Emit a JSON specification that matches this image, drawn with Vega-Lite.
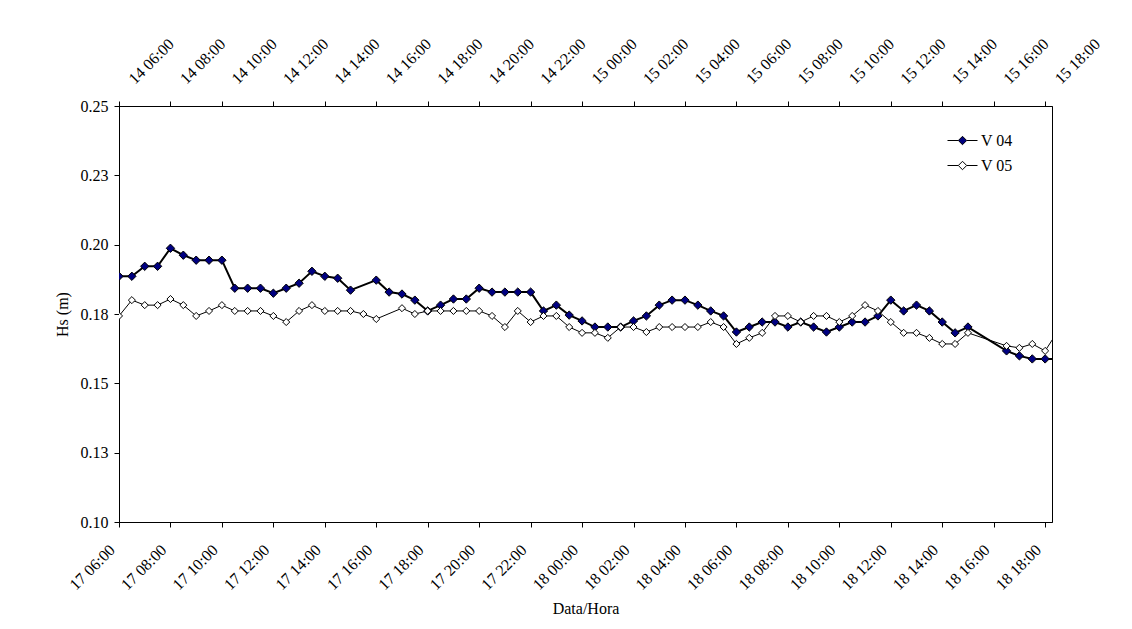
{
  "$schema": "https://vega.github.io/schema/vega-lite/v6.json",
  "width": 933,
  "height": 416,
  "autosize": {"type": "none"},
  "padding": {"left": 119, "top": 106, "right": 80, "bottom": 107},
  "background": "#ffffff",
  "config": {
    "font": "Liberation Serif",
    "view": {"stroke": "#000000", "strokeWidth": 1},
    "point": {"shape": "diamond"},
    "axis": {
      "domainColor": "#000000", "tickColor": "#000000", "labelColor": "#000000", "titleColor": "#000000",
      "labelFont": "Liberation Serif", "titleFont": "Liberation Serif",
      "labelFontSize": 16, "titleFontSize": 16, "titleFontWeight": "normal",
      "grid": false, "tickSize": 5, "labelOverlap": false, "labelFlush": false
    },
    "legend": {"labelFont": "Liberation Serif", "labelFontSize": 16, "labelColor": "#000000"}
  },
  "data": {
    "values": [
      {"t": "2000-01-17T06:00", "s": "V 04", "v": 0.1886},
      {"t": "2000-01-17T06:30", "s": "V 04", "v": 0.1886},
      {"t": "2000-01-17T07:00", "s": "V 04", "v": 0.1922},
      {"t": "2000-01-17T07:30", "s": "V 04", "v": 0.1922},
      {"t": "2000-01-17T08:00", "s": "V 04", "v": 0.1987},
      {"t": "2000-01-17T08:30", "s": "V 04", "v": 0.1962},
      {"t": "2000-01-17T09:00", "s": "V 04", "v": 0.1944},
      {"t": "2000-01-17T09:30", "s": "V 04", "v": 0.1944},
      {"t": "2000-01-17T10:00", "s": "V 04", "v": 0.1944},
      {"t": "2000-01-17T10:30", "s": "V 04", "v": 0.1843},
      {"t": "2000-01-17T11:00", "s": "V 04", "v": 0.1843},
      {"t": "2000-01-17T11:30", "s": "V 04", "v": 0.1843},
      {"t": "2000-01-17T12:00", "s": "V 04", "v": 0.1825},
      {"t": "2000-01-17T12:30", "s": "V 04", "v": 0.1843},
      {"t": "2000-01-17T13:00", "s": "V 04", "v": 0.1861},
      {"t": "2000-01-17T13:30", "s": "V 04", "v": 0.1904},
      {"t": "2000-01-17T14:00", "s": "V 04", "v": 0.1886},
      {"t": "2000-01-17T14:30", "s": "V 04", "v": 0.1879},
      {"t": "2000-01-17T15:00", "s": "V 04", "v": 0.1836},
      {"t": "2000-01-17T16:00", "s": "V 04", "v": 0.1872},
      {"t": "2000-01-17T16:30", "s": "V 04", "v": 0.1829},
      {"t": "2000-01-17T17:00", "s": "V 04", "v": 0.1822},
      {"t": "2000-01-17T17:30", "s": "V 04", "v": 0.1800},
      {"t": "2000-01-17T18:00", "s": "V 04", "v": 0.1761},
      {"t": "2000-01-17T18:30", "s": "V 04", "v": 0.1782},
      {"t": "2000-01-17T19:00", "s": "V 04", "v": 0.1804},
      {"t": "2000-01-17T19:30", "s": "V 04", "v": 0.1804},
      {"t": "2000-01-17T20:00", "s": "V 04", "v": 0.1843},
      {"t": "2000-01-17T20:30", "s": "V 04", "v": 0.1829},
      {"t": "2000-01-17T21:00", "s": "V 04", "v": 0.1829},
      {"t": "2000-01-17T21:30", "s": "V 04", "v": 0.1829},
      {"t": "2000-01-17T22:00", "s": "V 04", "v": 0.1829},
      {"t": "2000-01-17T22:30", "s": "V 04", "v": 0.1761},
      {"t": "2000-01-17T23:00", "s": "V 04", "v": 0.1782},
      {"t": "2000-01-17T23:30", "s": "V 04", "v": 0.1746},
      {"t": "2000-01-18T00:00", "s": "V 04", "v": 0.1725},
      {"t": "2000-01-18T00:30", "s": "V 04", "v": 0.1703},
      {"t": "2000-01-18T01:00", "s": "V 04", "v": 0.1703},
      {"t": "2000-01-18T01:30", "s": "V 04", "v": 0.1703},
      {"t": "2000-01-18T02:00", "s": "V 04", "v": 0.1725},
      {"t": "2000-01-18T02:30", "s": "V 04", "v": 0.1743},
      {"t": "2000-01-18T03:00", "s": "V 04", "v": 0.1782},
      {"t": "2000-01-18T03:30", "s": "V 04", "v": 0.1800},
      {"t": "2000-01-18T04:00", "s": "V 04", "v": 0.1800},
      {"t": "2000-01-18T04:30", "s": "V 04", "v": 0.1782},
      {"t": "2000-01-18T05:00", "s": "V 04", "v": 0.1761},
      {"t": "2000-01-18T05:30", "s": "V 04", "v": 0.1743},
      {"t": "2000-01-18T06:00", "s": "V 04", "v": 0.1685},
      {"t": "2000-01-18T06:30", "s": "V 04", "v": 0.1703},
      {"t": "2000-01-18T07:00", "s": "V 04", "v": 0.1721},
      {"t": "2000-01-18T07:30", "s": "V 04", "v": 0.1721},
      {"t": "2000-01-18T08:00", "s": "V 04", "v": 0.1703},
      {"t": "2000-01-18T08:30", "s": "V 04", "v": 0.1721},
      {"t": "2000-01-18T09:00", "s": "V 04", "v": 0.1703},
      {"t": "2000-01-18T09:30", "s": "V 04", "v": 0.1685},
      {"t": "2000-01-18T10:00", "s": "V 04", "v": 0.1703},
      {"t": "2000-01-18T10:30", "s": "V 04", "v": 0.1721},
      {"t": "2000-01-18T11:00", "s": "V 04", "v": 0.1721},
      {"t": "2000-01-18T11:30", "s": "V 04", "v": 0.1743},
      {"t": "2000-01-18T12:00", "s": "V 04", "v": 0.1800},
      {"t": "2000-01-18T12:30", "s": "V 04", "v": 0.1761},
      {"t": "2000-01-18T13:00", "s": "V 04", "v": 0.1782},
      {"t": "2000-01-18T13:30", "s": "V 04", "v": 0.1761},
      {"t": "2000-01-18T14:00", "s": "V 04", "v": 0.1721},
      {"t": "2000-01-18T14:30", "s": "V 04", "v": 0.1682},
      {"t": "2000-01-18T15:00", "s": "V 04", "v": 0.1703},
      {"t": "2000-01-18T16:30", "s": "V 04", "v": 0.1617},
      {"t": "2000-01-18T17:00", "s": "V 04", "v": 0.1599},
      {"t": "2000-01-18T17:30", "s": "V 04", "v": 0.1588},
      {"t": "2000-01-18T18:00", "s": "V 04", "v": 0.1588},
      {"t": "2000-01-18T18:30", "s": "V 04", "v": 0.1588},
      {"t": "2000-01-17T06:00", "s": "V 05", "v": 0.1743},
      {"t": "2000-01-17T06:30", "s": "V 05", "v": 0.1800},
      {"t": "2000-01-17T07:00", "s": "V 05", "v": 0.1782},
      {"t": "2000-01-17T07:30", "s": "V 05", "v": 0.1782},
      {"t": "2000-01-17T08:00", "s": "V 05", "v": 0.1804},
      {"t": "2000-01-17T08:30", "s": "V 05", "v": 0.1782},
      {"t": "2000-01-17T09:00", "s": "V 05", "v": 0.1743},
      {"t": "2000-01-17T09:30", "s": "V 05", "v": 0.1761},
      {"t": "2000-01-17T10:00", "s": "V 05", "v": 0.1782},
      {"t": "2000-01-17T10:30", "s": "V 05", "v": 0.1761},
      {"t": "2000-01-17T11:00", "s": "V 05", "v": 0.1761},
      {"t": "2000-01-17T11:30", "s": "V 05", "v": 0.1761},
      {"t": "2000-01-17T12:00", "s": "V 05", "v": 0.1743},
      {"t": "2000-01-17T12:30", "s": "V 05", "v": 0.1721},
      {"t": "2000-01-17T13:00", "s": "V 05", "v": 0.1761},
      {"t": "2000-01-17T13:30", "s": "V 05", "v": 0.1782},
      {"t": "2000-01-17T14:00", "s": "V 05", "v": 0.1761},
      {"t": "2000-01-17T14:30", "s": "V 05", "v": 0.1761},
      {"t": "2000-01-17T15:00", "s": "V 05", "v": 0.1761},
      {"t": "2000-01-17T15:30", "s": "V 05", "v": 0.1750},
      {"t": "2000-01-17T16:00", "s": "V 05", "v": 0.1732},
      {"t": "2000-01-17T17:00", "s": "V 05", "v": 0.1771},
      {"t": "2000-01-17T17:30", "s": "V 05", "v": 0.1750},
      {"t": "2000-01-17T18:00", "s": "V 05", "v": 0.1761},
      {"t": "2000-01-17T18:30", "s": "V 05", "v": 0.1761},
      {"t": "2000-01-17T19:00", "s": "V 05", "v": 0.1761},
      {"t": "2000-01-17T19:30", "s": "V 05", "v": 0.1761},
      {"t": "2000-01-17T20:00", "s": "V 05", "v": 0.1761},
      {"t": "2000-01-17T20:30", "s": "V 05", "v": 0.1743},
      {"t": "2000-01-17T21:00", "s": "V 05", "v": 0.1703},
      {"t": "2000-01-17T21:30", "s": "V 05", "v": 0.1761},
      {"t": "2000-01-17T22:00", "s": "V 05", "v": 0.1721},
      {"t": "2000-01-17T22:30", "s": "V 05", "v": 0.1743},
      {"t": "2000-01-17T23:00", "s": "V 05", "v": 0.1743},
      {"t": "2000-01-17T23:30", "s": "V 05", "v": 0.1703},
      {"t": "2000-01-18T00:00", "s": "V 05", "v": 0.1682},
      {"t": "2000-01-18T00:30", "s": "V 05", "v": 0.1682},
      {"t": "2000-01-18T01:00", "s": "V 05", "v": 0.1664},
      {"t": "2000-01-18T01:30", "s": "V 05", "v": 0.1703},
      {"t": "2000-01-18T02:00", "s": "V 05", "v": 0.1703},
      {"t": "2000-01-18T02:30", "s": "V 05", "v": 0.1685},
      {"t": "2000-01-18T03:00", "s": "V 05", "v": 0.1703},
      {"t": "2000-01-18T03:30", "s": "V 05", "v": 0.1703},
      {"t": "2000-01-18T04:00", "s": "V 05", "v": 0.1703},
      {"t": "2000-01-18T04:30", "s": "V 05", "v": 0.1703},
      {"t": "2000-01-18T05:00", "s": "V 05", "v": 0.1721},
      {"t": "2000-01-18T05:30", "s": "V 05", "v": 0.1703},
      {"t": "2000-01-18T06:00", "s": "V 05", "v": 0.1642},
      {"t": "2000-01-18T06:30", "s": "V 05", "v": 0.1664},
      {"t": "2000-01-18T07:00", "s": "V 05", "v": 0.1682},
      {"t": "2000-01-18T07:30", "s": "V 05", "v": 0.1743},
      {"t": "2000-01-18T08:00", "s": "V 05", "v": 0.1743},
      {"t": "2000-01-18T08:30", "s": "V 05", "v": 0.1721},
      {"t": "2000-01-18T09:00", "s": "V 05", "v": 0.1743},
      {"t": "2000-01-18T09:30", "s": "V 05", "v": 0.1743},
      {"t": "2000-01-18T10:00", "s": "V 05", "v": 0.1721},
      {"t": "2000-01-18T10:30", "s": "V 05", "v": 0.1743},
      {"t": "2000-01-18T11:00", "s": "V 05", "v": 0.1782},
      {"t": "2000-01-18T11:30", "s": "V 05", "v": 0.1761},
      {"t": "2000-01-18T12:00", "s": "V 05", "v": 0.1721},
      {"t": "2000-01-18T12:30", "s": "V 05", "v": 0.1682},
      {"t": "2000-01-18T13:00", "s": "V 05", "v": 0.1682},
      {"t": "2000-01-18T13:30", "s": "V 05", "v": 0.1664},
      {"t": "2000-01-18T14:00", "s": "V 05", "v": 0.1642},
      {"t": "2000-01-18T14:30", "s": "V 05", "v": 0.1642},
      {"t": "2000-01-18T15:00", "s": "V 05", "v": 0.1682},
      {"t": "2000-01-18T16:30", "s": "V 05", "v": 0.1635},
      {"t": "2000-01-18T17:00", "s": "V 05", "v": 0.1628},
      {"t": "2000-01-18T17:30", "s": "V 05", "v": 0.1642},
      {"t": "2000-01-18T18:00", "s": "V 05", "v": 0.1617},
      {"t": "2000-01-18T18:30", "s": "V 05", "v": 0.1689}
    ]
  },
  "layer": [
    {
      "mark": {"type": "line", "color": "#000000", "clip": true},
      "encoding": {
        "x": {
          "field": "t", "type": "temporal",
          "scale": {"domain": [{"year": 2000, "month": 1, "date": 17, "hours": 6, "minutes": 0}, {"year": 2000, "month": 1, "date": 18, "hours": 18, "minutes": 16}], "nice": false},
          "axis": {
            "orient": "bottom", "title": "Data/Hora", "format": "%d %H:%M",
            "values": [
              {"year": 2000, "month": 1, "date": 17, "hours": 6}, {"year": 2000, "month": 1, "date": 17, "hours": 8},
              {"year": 2000, "month": 1, "date": 17, "hours": 10}, {"year": 2000, "month": 1, "date": 17, "hours": 12},
              {"year": 2000, "month": 1, "date": 17, "hours": 14}, {"year": 2000, "month": 1, "date": 17, "hours": 16},
              {"year": 2000, "month": 1, "date": 17, "hours": 18}, {"year": 2000, "month": 1, "date": 17, "hours": 20},
              {"year": 2000, "month": 1, "date": 17, "hours": 22}, {"year": 2000, "month": 1, "date": 18, "hours": 0},
              {"year": 2000, "month": 1, "date": 18, "hours": 2}, {"year": 2000, "month": 1, "date": 18, "hours": 4},
              {"year": 2000, "month": 1, "date": 18, "hours": 6}, {"year": 2000, "month": 1, "date": 18, "hours": 8},
              {"year": 2000, "month": 1, "date": 18, "hours": 10}, {"year": 2000, "month": 1, "date": 18, "hours": 12},
              {"year": 2000, "month": 1, "date": 18, "hours": 14}, {"year": 2000, "month": 1, "date": 18, "hours": 16},
              {"year": 2000, "month": 1, "date": 18, "hours": 18}
            ],
            "labelAngle": 315, "labelAlign": "right", "labelBaseline": "middle", "labelPadding": 20, "labelOffset": -7, "titlePadding": 8
          }
        },
        "y": {
          "field": "v", "type": "quantitative",
          "scale": {"domain": [0.1, 0.25], "nice": false, "zero": false},
          "axis": {
            "title": "Hs (m)", "values": [0.1, 0.125, 0.15, 0.175, 0.2, 0.225, 0.25],
            "labelExpr": "format(datum.value + 0.000001, '.2f')", "labelPadding": 6, "titlePadding": 10
          }
        },
        "detail": {"field": "s", "type": "nominal"},
        "strokeWidth": {"field": "s", "type": "nominal", "scale": {"domain": ["V 05", "V 04"], "range": [1, 2]}, "legend": null}
      }
    },
    {
      "mark": {"type": "point", "filled": true, "stroke": "#000000", "strokeWidth": 1, "opacity": 1, "clip": true},
      "encoding": {
        "x": {
          "field": "t", "type": "temporal",
          "axis": {
            "orient": "top", "title": null,
            "values": [
              {"year": 2000, "month": 1, "date": 17, "hours": 6}, {"year": 2000, "month": 1, "date": 17, "hours": 8},
              {"year": 2000, "month": 1, "date": 17, "hours": 10}, {"year": 2000, "month": 1, "date": 17, "hours": 12},
              {"year": 2000, "month": 1, "date": 17, "hours": 14}, {"year": 2000, "month": 1, "date": 17, "hours": 16},
              {"year": 2000, "month": 1, "date": 17, "hours": 18}, {"year": 2000, "month": 1, "date": 17, "hours": 20},
              {"year": 2000, "month": 1, "date": 17, "hours": 22}, {"year": 2000, "month": 1, "date": 18, "hours": 0},
              {"year": 2000, "month": 1, "date": 18, "hours": 2}, {"year": 2000, "month": 1, "date": 18, "hours": 4},
              {"year": 2000, "month": 1, "date": 18, "hours": 6}, {"year": 2000, "month": 1, "date": 18, "hours": 8},
              {"year": 2000, "month": 1, "date": 18, "hours": 10}, {"year": 2000, "month": 1, "date": 18, "hours": 12},
              {"year": 2000, "month": 1, "date": 18, "hours": 14}, {"year": 2000, "month": 1, "date": 18, "hours": 16},
              {"year": 2000, "month": 1, "date": 18, "hours": 18}
            ],
            "labelExpr": "timeFormat(datum.value - 259200000, '%d %H:%M')",
            "labelAngle": 315, "labelAlign": "left", "labelBaseline": "middle", "labelPadding": 20, "labelOffset": 12
          }
        },
        "y": {"field": "v", "type": "quantitative"},
        "size": {"field": "s", "type": "nominal", "scale": {"domain": ["V 05", "V 04"], "range": [50, 70]}, "legend": null},
        "fill": {
          "field": "s", "type": "nominal",
          "scale": {"domain": ["V 04", "V 05"], "range": ["#000080", "#ffffff"]},
          "legend": {
            "title": null, "orient": "none", "legendX": 833, "legendY": 24,
            "symbolType": "M-1.5,0H-0.42M0.42,0H1.5M0,-0.42L0.42,0L0,0.42L-0.42,0Z",
            "symbolSize": 400, "rowPadding": 6, "labelOffset": 8,
            "symbolStrokeColor": "#000000", "symbolStrokeWidth": 1,
            "encode": {"symbols": {
              "strokeWidth": {"condition": {"test": "datum.value === 'V 04'", "value": 2}, "value": 1}
            }}
          }
        }
      }
    }
  ],
  "resolve": {"axis": {"x": "independent"}}
}
